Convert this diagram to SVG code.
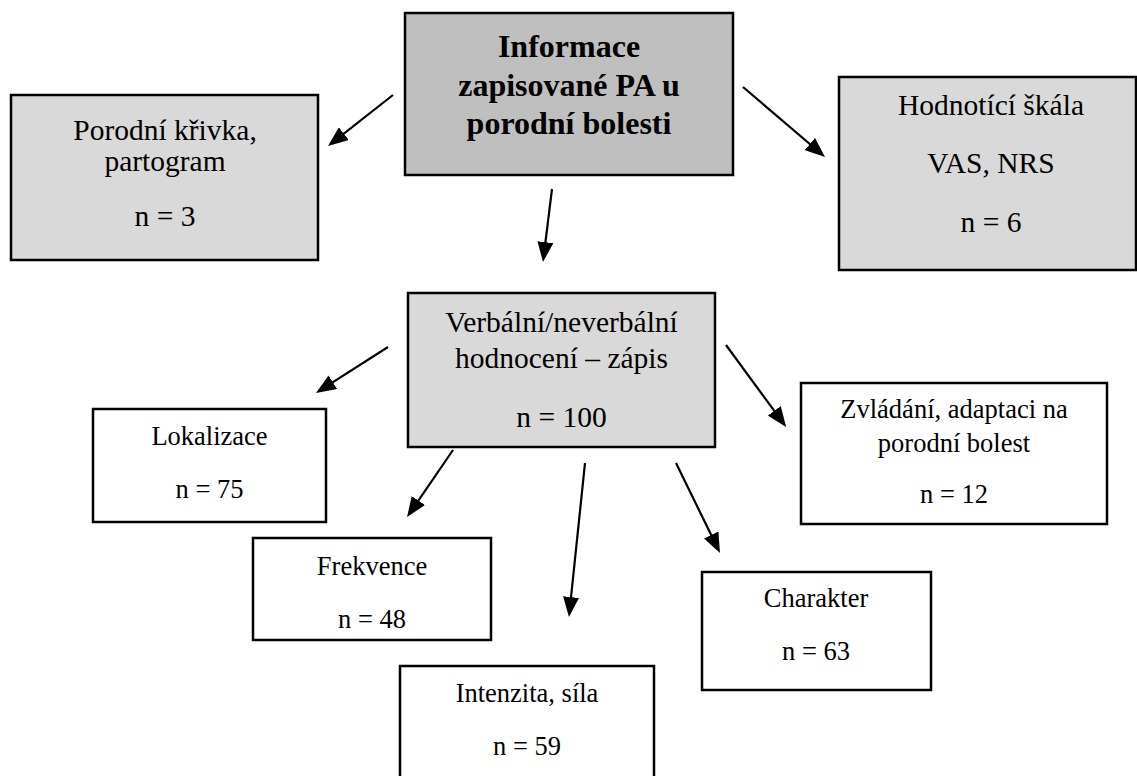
<svg xmlns="http://www.w3.org/2000/svg" width="1137" height="776" viewBox="0 0 1137 776">
  <style>
    .box { stroke: #000; stroke-width: 2.5; }
    .dark { fill: #bfbfbf; }
    .grey { fill: #d9d9d9; }
    .white { fill: #fff; }
    text { font-family: "Liberation Serif", "Times New Roman", serif; fill: #000; text-anchor: middle; }
    .title { font-size: 32px; font-weight: bold; }
    .big { font-size: 29.5px; }
    .small { font-size: 26.5px; }
    .conn line { stroke: #000; stroke-width: 2.2; marker-end: url(#head); }
  </style>
  <defs>
    <marker id="head" markerUnits="userSpaceOnUse" markerWidth="20" markerHeight="16" refX="10" refY="8" orient="auto">
      <path d="M0,0 L20,8 L0,16 Z" fill="#000"/>
    </marker>
  </defs>
  <rect width="1137" height="776" fill="#fff"/>

  <g id="root">
    <rect class="box dark" x="405" y="13" width="328" height="162"/>
    <text class="title" x="569" y="57">Informace</text>
    <text class="title" x="569" y="96">zapisované PA u</text>
    <text class="title" x="569" y="134">porodní bolesti</text>
  </g>

  <g id="krivka">
    <rect class="box grey" x="11" y="95" width="307" height="165"/>
    <text class="big" x="165" y="140">Porodní křivka,</text>
    <text class="big" x="165" y="171">partogram</text>
    <text class="big" x="165" y="226">n = 3</text>
  </g>

  <g id="skala">
    <rect class="box grey" x="839" y="77" width="297" height="193"/>
    <text class="big" x="991" y="115">Hodnotící škála</text>
    <text class="big" x="991" y="173">VAS, NRS</text>
    <text class="big" x="991" y="232">n = 6</text>
  </g>

  <g id="verbalni">
    <rect class="box grey" x="408" y="293" width="307" height="154"/>
    <text class="big" x="561.5" y="332">Verbální/neverbální</text>
    <text class="big" x="561.5" y="368">hodnocení – zápis</text>
    <text class="big" x="561.5" y="427">n = 100</text>
  </g>

  <g id="lokalizace">
    <rect class="box white" x="93" y="409" width="233" height="113"/>
    <text class="small" x="209.5" y="445">Lokalizace</text>
    <text class="small" x="209.5" y="498">n = 75</text>
  </g>

  <g id="frekvence">
    <rect class="box white" x="253" y="538" width="238" height="102"/>
    <text class="small" x="372" y="575">Frekvence</text>
    <text class="small" x="372" y="628">n = 48</text>
  </g>

  <g id="intenzita">
    <rect class="box white" x="400" y="666" width="254" height="120"/>
    <text class="small" x="527" y="702">Intenzita, síla</text>
    <text class="small" x="527" y="755">n = 59</text>
  </g>

  <g id="charakter">
    <rect class="box white" x="702" y="572" width="229" height="118"/>
    <text class="small" x="816" y="607">Charakter</text>
    <text class="small" x="816" y="660">n = 63</text>
  </g>

  <g id="zvladani">
    <rect class="box white" x="801" y="383" width="306" height="141"/>
    <text class="small" x="954" y="418">Zvládání, adaptaci na</text>
    <text class="small" x="954" y="452">porodní bolest</text>
    <text class="small" x="954" y="503">n = 12</text>
  </g>

  <g id="connectors" class="conn">
    <line x1="393" y1="95" x2="335.9" y2="139.8"/>
    <line x1="743" y1="87" x2="817.4" y2="150.5"/>
    <line x1="552" y1="189" x2="544.2" y2="252.1"/>
    <line x1="388" y1="347" x2="324.4" y2="387.6"/>
    <line x1="453" y1="450" x2="412.7" y2="508.8"/>
    <line x1="585" y1="463" x2="570" y2="607"/>
    <line x1="676" y1="463" x2="715.6" y2="544"/>
    <line x1="726" y1="345" x2="780.2" y2="418.9"/>
  </g>
</svg>
